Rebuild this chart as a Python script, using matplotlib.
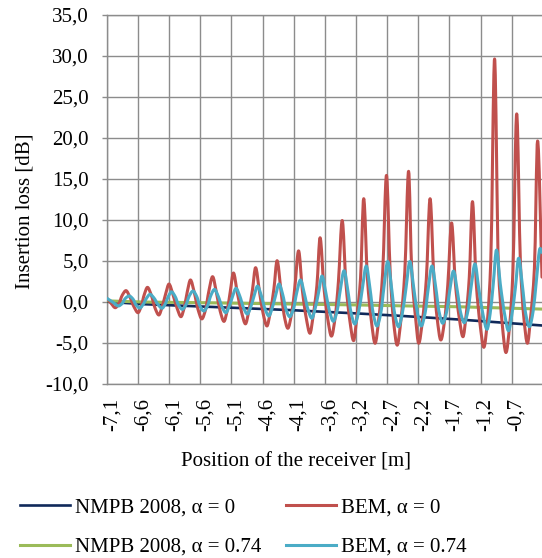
import matplotlib
matplotlib.use("Agg")
import matplotlib.pyplot as plt
import matplotlib.transforms as mtransforms
from matplotlib.path import Path
from matplotlib.patches import PathPatch
from matplotlib.lines import Line2D

plt.rcParams['font.family'] = ['Liberation Serif', 'DejaVu Serif']

# ---------------- data ----------------
x_tick_pos = [-7.100, -6.608, -6.115, -5.623, -5.131, -4.638, -4.146,
              -3.654, -3.162, -2.669, -2.177, -1.685, -1.192, -0.700]
x_tick_labels = ['-7,1', '-6,6', '-6,1', '-5,6', '-5,1', '-4,6', '-4,1',
                 '-3,6', '-3,2', '-2,7', '-2,2', '-1,7', '-1,2', '-0,7']
y_ticks = [-10, -5, 0, 5, 10, 15, 20, 25, 30, 35]
y_tick_labels = ['-10,0', '-5,0', '0,0', '5,0', '10,0', '15,0', '20,0', '25,0', '30,0', '35,0']

nmpb0_x = [-7.10, -6.53, -5.63, -4.21, -3.10, -2.47, -1.52, -0.22]
nmpb0_y = [0.00, -0.30, -0.58, -1.02, -1.45, -1.72, -2.18, -2.90]

nmpb074_x = [-7.10, -6.53, -5.63, -4.21, -3.10, -2.47, -1.52, -0.22]
nmpb074_y = [0.10, -0.04, -0.12, -0.28, -0.40, -0.50, -0.62, -0.90]

bem0_x = [-7.10, -7.03, -6.97,
          -6.91, -6.86, -6.80, -6.74, -6.67, -6.61,
          -6.56, -6.51, -6.46, -6.40, -6.34, -6.28,
          -6.23, -6.17, -6.12, -6.06, -5.99, -5.93,
          -5.88, -5.83, -5.78, -5.72, -5.66, -5.60,
          -5.54, -5.49, -5.43, -5.37, -5.31, -5.25,
          -5.20, -5.15, -5.10, -5.04, -4.97, -4.91,
          -4.86, -4.80, -4.75, -4.69, -4.63, -4.57,
          -4.52, -4.46, -4.41, -4.35, -4.30, -4.24,
          -4.18, -4.13, -4.07, -4.01, -3.95, -3.89,
          -3.84, -3.78, -3.73, -3.67, -3.61, -3.55,
          -3.49, -3.44, -3.38, -3.32, -3.26, -3.20,
          -3.15, -3.09, -3.04, -2.98, -2.92, -2.86,
          -2.80, -2.74, -2.68, -2.62, -2.57, -2.51,
          -2.45, -2.39, -2.33, -2.28, -2.22, -2.17,
          -2.11, -2.05, -1.99, -1.93, -1.88, -1.82,
          -1.76, -1.71, -1.65, -1.59, -1.53, -1.47,
          -1.42, -1.37, -1.32, -1.26, -1.20, -1.14,
          -1.08, -1.03, -0.97, -0.91, -0.85, -0.79,
          -0.73, -0.68, -0.62, -0.56, -0.51, -0.45,
          -0.40, -0.34, -0.29, -0.22]
bem0_y = [0.40, -0.25, -0.73,
          -0.21, 0.77, 1.35, 0.60, -0.67, -1.34,
          -0.57, 0.88, 1.75, 0.81, -0.78, -1.62,
          -0.68, 1.02, 2.15, 0.96, -0.83, -1.83,
          -0.75, 1.22, 2.65, 1.13, -0.96, -2.10,
          -0.92, 1.25, 3.05, 1.14, -1.15, -2.40,
          -1.10, 1.26, 3.50, 1.14, -1.34, -2.70,
          -1.26, 1.41, 4.15, 1.31, -1.47, -2.96,
          -1.37, 1.58, 5.00, 1.46, -1.59, -3.24,
          -1.45, 1.67, 6.20, 1.38, -1.94, -3.85,
          -1.75, 1.98, 7.80, 1.80, -2.04, -4.20,
          -1.80, 2.43, 9.90, 2.14, -2.26, -4.75,
          -1.98, 2.87, 12.56, 2.69, -2.25, -5.07,
          -2.00, 3.53, 15.40, 3.39, -2.20, -5.30,
          -2.12, 3.60, 15.90, 3.74, -1.92, -5.07,
          -2.25, 2.69, 12.56, 2.91, -1.91, -4.67,
          -2.24, 2.04, 9.60, 2.25, -1.91, -4.27,
          -1.63, 2.98, 12.20, 2.25, -2.72, -5.56,
          -2.04, 4.99, 29.60, 4.54, -2.62, -6.20,
          -2.71, 3.69, 22.90, 4.44, -1.71, -5.07,
          -1.86, 4.06, 19.60, 3.00]

bem074_x = [-7.10, -7.01, -6.92,
            -6.86, -6.81, -6.75, -6.69, -6.64, -6.58,
            -6.53, -6.47, -6.42, -6.36, -6.29, -6.23,
            -6.18, -6.13, -6.08, -6.02, -5.97, -5.91,
            -5.85, -5.80, -5.74, -5.68, -5.63, -5.57,
            -5.51, -5.46, -5.40, -5.34, -5.28, -5.22,
            -5.17, -5.11, -5.06, -5.00, -4.94, -4.88,
            -4.83, -4.77, -4.72, -4.66, -4.60, -4.54,
            -4.49, -4.43, -4.38, -4.32, -4.27, -4.21,
            -4.15, -4.10, -4.04, -3.98, -3.92, -3.86,
            -3.81, -3.75, -3.70, -3.64, -3.58, -3.52,
            -3.46, -3.41, -3.35, -3.29, -3.24, -3.18,
            -3.12, -3.06, -3.00, -2.94, -2.89, -2.83,
            -2.77, -2.72, -2.66, -2.60, -2.55, -2.49,
            -2.43, -2.37, -2.31, -2.25, -2.19, -2.13,
            -2.07, -2.02, -1.96, -1.90, -1.85, -1.79,
            -1.73, -1.68, -1.62, -1.56, -1.51, -1.45,
            -1.39, -1.34, -1.28, -1.22, -1.15, -1.09,
            -1.04, -0.99, -0.94, -0.88, -0.81, -0.75,
            -0.70, -0.64, -0.59, -0.53, -0.48, -0.42,
            -0.36, -0.31, -0.25, -0.22]
bem074_y = [0.40, -0.05, -0.52,
            -0.22, 0.40, 0.70, 0.33, -0.40, -0.77,
            -0.35, 0.48, 0.90, 0.48, -0.38, -0.80,
            -0.30, 0.64, 1.20, 0.60, -0.40, -0.93,
            -0.37, 0.68, 1.30, 0.62, -0.52, -1.13,
            -0.50, 0.71, 1.50, 0.65, -0.66, -1.34,
            -0.63, 0.74, 1.63, 0.69, -0.75, -1.50,
            -0.72, 0.81, 1.90, 0.74, -0.90, -1.74,
            -0.84, 0.87, 2.16, 0.84, -0.91, -1.83,
            -0.84, 1.08, 2.65, 1.02, -0.99, -2.02,
            -0.89, 1.28, 3.13, 1.14, -1.18, -2.39,
            -1.09, 1.44, 3.78, 1.31, -1.35, -2.72,
            -1.24, 1.66, 4.35, 1.57, -1.42, -2.96,
            -1.39, 1.76, 4.90, 1.72, -1.46, -3.05,
            -1.46, 1.72, 4.90, 1.76, -1.39, -2.96,
            -1.42, 1.57, 4.35, 1.70, -1.16, -2.63,
            -1.29, 1.32, 3.74, 1.35, -1.24, -2.56,
            -1.06, 1.88, 4.60, 1.57, -1.70, -3.37,
            -1.44, 2.24, 6.30, 2.17, -1.57, -3.54,
            -1.77, 1.76, 5.30, 1.96, -1.38, -3.05,
            -1.14, 2.49, 6.50, 6.00]


def smoothed_path(xs, ys):
    """Smoothed-line rendering: monotone cubic Bezier segments through
    the given points (no overshoot, flat at the extremes)."""
    n = len(xs)
    h = [xs[k + 1] - xs[k] for k in range(n - 1)]
    d = [(ys[k + 1] - ys[k]) / h[k] for k in range(n - 1)]
    m = [0.0] * n
    m[0], m[-1] = d[0], d[-1]
    for k in range(1, n - 1):
        if d[k - 1] * d[k] <= 0:
            m[k] = 0.0
        else:
            w1 = 2 * h[k] + h[k - 1]
            w2 = h[k] + 2 * h[k - 1]
            m[k] = (w1 + w2) / (w1 / d[k - 1] + w2 / d[k])
    verts = [(xs[0], ys[0])]
    codes = [Path.MOVETO]
    for k in range(n - 1):
        t = h[k] / 3.0
        verts += [(xs[k] + t, ys[k] + m[k] * t),
                  (xs[k + 1] - t, ys[k + 1] - m[k + 1] * t),
                  (xs[k + 1], ys[k + 1])]
        codes += [Path.CURVE4] * 3
    return Path(verts, codes)


# ---------------- figure ----------------
FS = 15
GRID = '#8c8c8c'
C_NAVY, C_GREEN, C_RED, C_CYAN = '#10295a', '#9bbb59', '#c0504d', '#4bacc6'
fig = plt.figure(figsize=(5.42, 5.58), dpi=100)
ax = fig.add_axes([107 / 542, 1 - 383.7 / 558, 1 - 107 / 542, (383.7 - 14.7) / 558])

ax.plot(nmpb0_x, nmpb0_y, color=C_NAVY, lw=1.9, zorder=3)
ax.plot(nmpb074_x, nmpb074_y, color=C_GREEN, lw=2.2, zorder=3.1)
ax.add_patch(PathPatch(smoothed_path(bem0_x, bem0_y), fill=False, edgecolor=C_RED,
                       lw=2.2, zorder=3.2, joinstyle='round', capstyle='round'))
ax.add_patch(PathPatch(smoothed_path(bem074_x, bem074_y), fill=False, edgecolor=C_CYAN,
                       lw=2.2, zorder=3.3, joinstyle='round', capstyle='round'))

ax.set_xlim(-7.10, -0.22)
ax.set_ylim(-10, 35)
ax.set_xticks(x_tick_pos)
ax.set_xticklabels(x_tick_labels, rotation=90, fontsize=FS, va='top', ha='center')
ax.set_yticks(y_ticks)
ax.set_yticklabels(y_tick_labels, fontsize=FS)
ax.grid(True, color=GRID, lw=1.0, zorder=0)
ax.set_axisbelow(True)
for s in ['left', 'bottom', 'top']:
    ax.spines[s].set_color(GRID)
    ax.spines[s].set_linewidth(1.0)
ax.spines['right'].set_visible(False)
ax.tick_params(axis='y', direction='out', length=3.6, width=1.0, color=GRID, pad=9.6)
ax.tick_params(axis='x', length=0, pad=10)

offset = mtransforms.ScaledTranslation(5 / 100, 0, fig.dpi_scale_trans)
for lab in ax.get_xticklabels():
    lab.set_transform(lab.get_transform() + offset)

fig.text(25 / 542, 1 - 211 / 558, 'Insertion loss [dB]', rotation=90,
         ha='center', va='center', fontsize=FS)
fig.text(296 / 542, 1 - 462 / 558, 'Position of the receiver [m]',
         ha='center', va='center', fontsize=FS)

handles = [Line2D([], [], color=C_NAVY, lw=1.9),
           Line2D([], [], color=C_GREEN, lw=2.2),
           Line2D([], [], color=C_RED, lw=2.2),
           Line2D([], [], color=C_CYAN, lw=2.2)]
labels = ['NMPB 2008, α = 0', 'NMPB 2008, α = 0.74', 'BEM, α = 0', 'BEM, α = 0.74']
fig.legend(handles, labels, ncol=2, loc='upper left',
           bbox_to_anchor=(20 / 542, 1 - 498 / 558), frameon=False,
           fontsize=FS, borderaxespad=0, borderpad=0,
           handlelength=2.4, handletextpad=0.24, columnspacing=1.2,
           labelspacing=0.95)

fig.savefig('out.png', dpi=100)
